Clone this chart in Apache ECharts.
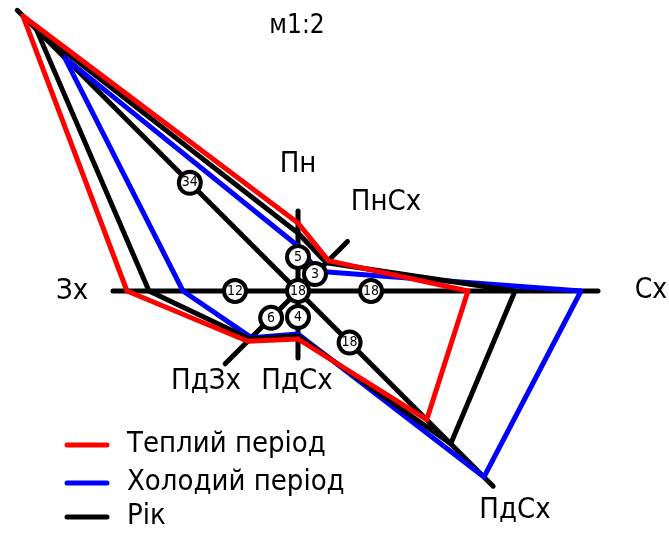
<!DOCTYPE html>
<html>
<head>
<meta charset="utf-8">
<script src="https://cdn.jsdelivr.net/npm/echarts@6/dist/echarts.min.js"></script>
<style>
html,body{margin:0;padding:0;background:#fff;}
#chart{width:669px;height:536px;}
</style>
</head>
<body>
<div id="chart"></div>
<script>
// Directions (clockwise from north)
var directions = ['Пн', 'ПнСх', 'Сх', 'ПдСх', 'Пд', 'ПдЗх', 'Зх', 'ПнЗх'];
// Rose radii (drawing units, scale м1:2)
var warmPeriod = [68, 43, 170, 182, 48, 71, 171, 389];
var coldPeriod = [45, 28, 283, 263, 43, 66, 115, 330];
var yearRose   = [58, 40, 217, 216, 45, 68, 149, 370];
// Annual frequency values shown in circles (%), and calm
var yearPercent = [5, 3, 18, 18, 4, 6, 12, 34];
var calmPercent = 18;
// Where the circled values sit along each direction ray
var badgeRadius = [34, 24, 73, 73, 26, 38, 63, 153];
// Length of each direction ray
var rayLength = [80, 70, 300, 276, 67, 103, 185, 397];
// Series names
var seriesNames = ['Теплий період', 'Холодий період', 'Рік'];

var FONT = "'DejaVu Sans Condensed', 'Liberation Sans Narrow', sans-serif";

function closedRing(vals) {
  var d = vals.map(function (r, i) { return [r, i]; });
  d.push([vals[0], 0]);
  return d;
}

var series = [];
// direction rays (opposite pairs)
for (var k = 0; k < 4; k++) {
  series.push({
    type: 'line', coordinateSystem: 'polar', silent: true, symbol: 'none', z: 1, clip: false,
    data: [[rayLength[k], k], [rayLength[k + 4], k + 4]],
    lineStyle: { color: '#000', width: 5, cap: 'round' }
  });
}
var roseDefs = [
  { vals: coldPeriod, color: '#0000ff', name: seriesNames[1], z: 2 },
  { vals: yearRose,   color: '#000000', name: seriesNames[2], z: 3 },
  { vals: warmPeriod, color: '#ff0000', name: seriesNames[0], z: 4 }
];
roseDefs.forEach(function (s) {
  series.push({
    type: 'line', coordinateSystem: 'polar', name: s.name, symbol: 'none', z: s.z, clip: false,
    data: closedRing(s.vals),
    lineStyle: { color: s.color, width: 5, join: 'round', cap: 'round' }
  });
});
// circled values
var badgeData = badgeRadius.map(function (r, i) { return [r, i]; });
badgeData.push([0, 0]);
series.push({
  type: 'scatter', coordinateSystem: 'polar', z: 10, symbol: 'circle', symbolSize: 22, clip: false,
  data: badgeData,
  itemStyle: { color: '#fff', borderColor: '#000', borderWidth: 4, opacity: 1 },
  label: {
    show: true, position: 'inside',
    formatter: function (p) {
      return '{n|' + (p.dataIndex < yearPercent.length ? yearPercent[p.dataIndex] : calmPercent) + '}';
    },
    rich: { n: { fontSize: 14, color: '#000', fontFamily: 'DejaVu Sans Condensed', lineHeight: 15 } }
  }
});

function txt(x, y, s, size, align) {
  return { type: 'text', x: x, y: y, z: 20,
    style: { text: s, font: size + 'px ' + FONT, fill: '#000', align: align || 'center', verticalAlign: 'middle' } };
}
var legendColors = ['#ff0000', '#0000ff', '#000000'];
var legendY = [445, 483, 517];
var graphics = [
  txt(297, 26, 'м1:2', 26),
  txt(298, 164, directions[0], 29),
  txt(386, 202, directions[1], 29),
  txt(651, 291, directions[2], 28),
  txt(515, 510, directions[3], 29),
  txt(297, 381, directions[3], 29),
  txt(206, 381, directions[5], 29),
  txt(72, 291, directions[6], 29)
];
seriesNames.forEach(function (n, i) {
  graphics.push({ type: 'line', z: 20, shape: { x1: 67, y1: legendY[i], x2: 107, y2: legendY[i] },
    style: { stroke: legendColors[i], lineWidth: 5, lineCap: 'round' } });
  graphics.push(txt(127, legendY[i] - 1, n, 29, 'left'));
});

var chart = echarts.init(document.getElementById('chart'), null, { renderer: 'canvas' });
chart.setOption({
  animation: false,
  backgroundColor: '#fff',
  polar: { center: [298, 291], radius: 400 },
  angleAxis: {
    // band layout: 8 sectors of 45°, each direction at its band centre
    type: 'category', data: directions, startAngle: 112.5, clockwise: true, boundaryGap: true,
    axisLine: { show: false }, axisTick: { show: false }, axisLabel: { show: false }, splitLine: { show: false }
  },
  radiusAxis: {
    type: 'value', min: 0, max: 400,
    axisLine: { show: false }, axisTick: { show: false }, axisLabel: { show: false }, splitLine: { show: false }
  },
  series: series,
  graphic: graphics
});
</script>
</body>
</html>
